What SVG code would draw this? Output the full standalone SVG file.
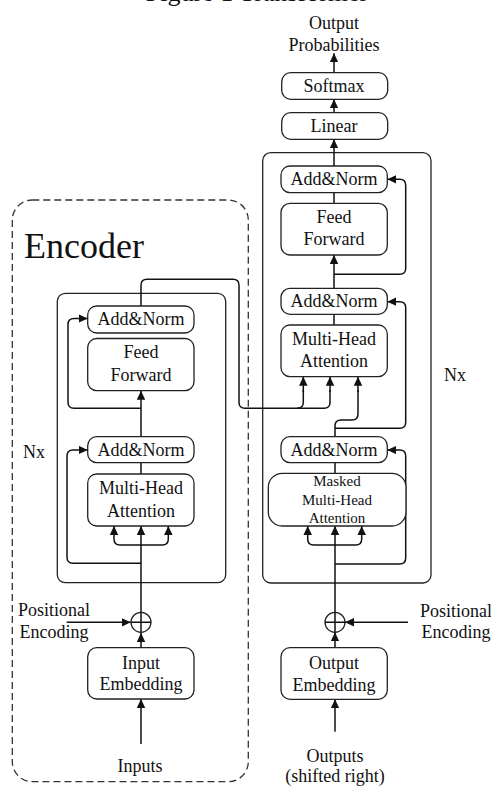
<svg xmlns="http://www.w3.org/2000/svg" width="491" height="786" viewBox="0 0 491 786">
  <style>
    text { font-family: "Liberation Serif", "Times New Roman", serif; font-size: 18px; fill: #111; text-anchor: middle; }
    .box { fill: #fff; stroke: #222; stroke-width: 1.3; }
    .frame { fill: none; stroke: #222; stroke-width: 1.3; }
    .dash { fill: none; stroke: #333; stroke-width: 1.3; stroke-dasharray: 7 4; }
    .wire { fill: none; stroke: #111; stroke-width: 1.5; }
    .arrow { fill: none; stroke: #111; stroke-width: 1.5; marker-end: url(#head); }
    .small { font-size: 15px; }
  </style>
  <defs>
    <marker id="head" markerUnits="userSpaceOnUse" markerWidth="10" markerHeight="10" refX="9" refY="4.25" orient="auto">
      <path d="M0,0 L9,4.25 L0,8.5 z" fill="#111"/>
    </marker>
  </defs>

  <rect width="491" height="786" fill="#fff"/>

  <!-- title, clipped by the top edge -->
  <text x="257" y="1" style="font-size:26px">Figure 1 Transformer</text>

  <!-- frames -->
  <g id="encoder-frame">
    <rect class="dash" x="12.3" y="200" width="236" height="581.7" rx="20"/>
    <text x="84" y="258" style="font-size:36px">Encoder</text>
  </g>
  <g id="encoder-stack">
    <rect class="frame" x="57.3" y="293.3" width="168.4" height="289.4" rx="8"/>
    <text x="34" y="458">Nx</text>
  </g>
  <g id="decoder-stack">
    <rect class="frame" x="262.7" y="152.7" width="168.3" height="430.3" rx="8"/>
    <text x="455" y="381">Nx</text>
  </g>

  <!-- connectors -->
  <g id="connectors">
    <!-- encoder -->
    <path class="arrow" d="M141,744 V699"/>
    <path class="arrow" d="M141,647.7 V633"/>
    <path class="arrow" d="M66.7,622.3 H130.7"/>
    <path class="arrow" d="M141,612.3 V526"/>
    <path class="arrow" d="M141,545 H120 Q114,545 114,539 V526"/>
    <path class="arrow" d="M141,545 H162.3 Q168.3,545 168.3,539 V526"/>
    <path class="arrow" d="M141,563.3 H73 Q67,563.3 67,557.3 V456 Q67,450 73,450 H87.7"/>
    <path class="wire" d="M141,462.7 V474" stroke="#555"/>
    <path class="arrow" d="M141,436.7 V390.7"/>
    <path class="arrow" d="M141,408.3 H74 Q68,408.3 68,402.3 V324.5 Q68,318.5 74,318.5 H87.7"/>
    <!-- encoder output into decoder attention -->
    <path class="wire" d="M141,306 V285.3 Q141,279.3 147,279.3 H233 Q239,279.3 239,285.3 V402.3 Q239,408.3 245,408.3 H324 Q330,408.3 330,402.3 V390"/>
    <path class="arrow" d="M330,392 V376.7"/>
    <path class="wire" d="M297,408.3 Q303.3,408.3 303.3,402.3 V390"/>
    <path class="arrow" d="M303.3,392 V376.7"/>

    <!-- decoder -->
    <path class="arrow" d="M335,731.7 V699.3"/>
    <path class="arrow" d="M335,647.7 V632.3"/>
    <path class="arrow" d="M408,622.3 H345"/>
    <path class="arrow" d="M335,612.3 V526"/>
    <path class="arrow" d="M335,545 H313.7 Q307.7,545 307.7,539 V526"/>
    <path class="arrow" d="M335,545 H355.7 Q361.7,545 361.7,539 V526"/>
    <path class="arrow" d="M335,564 H399.7 Q405.7,564 405.7,558 V456 Q405.7,450 399.7,450 H387.3"/>
    <path class="wire" d="M335,462.7 V473.3" stroke="#555"/>
    <path class="wire" d="M335,436.7 V426 Q335,420 341,420 H352 Q358,420 358,414 V390"/>
    <path class="arrow" d="M358,392 V376.7"/>
    <path class="arrow" d="M335,428.3 H399.7 Q405.7,428.3 405.7,422.3 V307.7 Q405.7,301.7 399.7,301.7 H387.3"/>
    <path class="wire" d="M334,314.3 V325"/>
    <path class="arrow" d="M334,288.3 V255"/>
    <path class="arrow" d="M334,274.3 H399.7 Q405.7,274.3 405.7,268.3 V185.3 Q405.7,179.3 399.7,179.3 H387.3"/>
    <path class="wire" d="M334,192.7 V203.3"/>
    <path class="arrow" d="M334,166 V139.3"/>
    <path class="arrow" d="M334,112.7 V99.3"/>
    <path class="arrow" d="M334,72.7 V53.3"/>
  </g>

  <!-- encoder nodes -->
  <g id="inputs"><text x="140" y="771.7">Inputs</text></g>
  <g id="input-embedding">
    <rect class="box" x="87.7" y="647.7" width="106.3" height="51.3" rx="9"/>
    <text x="141" y="669">Input</text>
    <text x="141" y="690">Embedding</text>
  </g>
  <g id="enc-pos-encoding">
    <text x="54" y="616">Positional</text>
    <text x="54" y="637.7">Encoding</text>
  </g>
  <g id="enc-add">
    <circle class="box" cx="141" cy="622.3" r="10"/>
    <path class="wire" d="M131,622.3 H151 M141,612.3 V632.3" stroke-width="1.2"/>
  </g>
  <g id="enc-mha">
    <rect class="box" x="87.7" y="474" width="106.3" height="52" rx="9"/>
    <text x="141" y="494.3">Multi-Head</text>
    <text x="141" y="516.7">Attention</text>
  </g>
  <g id="enc-addnorm-1">
    <rect class="box" x="87.7" y="436.7" width="106.3" height="26" rx="9"/>
    <text x="141" y="455.5">Add&amp;Norm</text>
  </g>
  <g id="enc-ff">
    <rect class="box" x="87.7" y="338.5" width="106.3" height="52.2" rx="9"/>
    <text x="141" y="358.3">Feed</text>
    <text x="141" y="380.7">Forward</text>
  </g>
  <g id="enc-addnorm-2">
    <rect class="box" x="87.7" y="306" width="106.3" height="27" rx="9"/>
    <text x="141" y="325">Add&amp;Norm</text>
  </g>

  <!-- decoder nodes -->
  <g id="outputs">
    <text x="335" y="761.7">Outputs</text>
    <text x="335" y="781.7">(shifted right)</text>
  </g>
  <g id="output-embedding">
    <rect class="box" x="281" y="647.7" width="106.3" height="51.6" rx="9"/>
    <text x="334" y="669.3">Output</text>
    <text x="334" y="691">Embedding</text>
  </g>
  <g id="dec-pos-encoding">
    <text x="456" y="617.3">Positional</text>
    <text x="456" y="638.3">Encoding</text>
  </g>
  <g id="dec-add">
    <circle class="box" cx="335" cy="622.3" r="10"/>
    <path class="wire" d="M325,622.3 H345 M335,612.3 V632.3" stroke-width="1.2"/>
  </g>
  <g id="dec-masked-mha">
    <rect class="box" x="268.3" y="473.3" width="137.7" height="52.7" rx="14"/>
    <text class="small" x="337" y="486">Masked</text>
    <text class="small" x="337" y="505">Multi-Head</text>
    <text class="small" x="337" y="522.7">Attention</text>
  </g>
  <g id="dec-addnorm-1">
    <rect class="box" x="281" y="436.7" width="106.3" height="26" rx="9"/>
    <text x="334" y="455.5">Add&amp;Norm</text>
  </g>
  <g id="dec-mha">
    <rect class="box" x="281" y="325" width="106.3" height="51.7" rx="9"/>
    <text x="334" y="345">Multi-Head</text>
    <text x="334" y="366.7">Attention</text>
  </g>
  <g id="dec-addnorm-2">
    <rect class="box" x="281" y="288.3" width="106.3" height="26" rx="9"/>
    <text x="334" y="307.3">Add&amp;Norm</text>
  </g>
  <g id="dec-ff">
    <rect class="box" x="281" y="203.3" width="106.3" height="51.7" rx="9"/>
    <text x="334" y="223.3">Feed</text>
    <text x="334" y="245">Forward</text>
  </g>
  <g id="dec-addnorm-3">
    <rect class="box" x="281" y="166" width="106.3" height="26.7" rx="9"/>
    <text x="334" y="185.3">Add&amp;Norm</text>
  </g>
  <g id="linear">
    <rect class="box" x="281.7" y="112.7" width="106" height="26.6" rx="9"/>
    <text x="334" y="132">Linear</text>
  </g>
  <g id="softmax">
    <rect class="box" x="281.7" y="72.7" width="106" height="26.6" rx="9"/>
    <text x="334" y="92">Softmax</text>
  </g>
  <g id="output-probabilities">
    <text x="334" y="29">Output</text>
    <text x="334" y="51">Probabilities</text>
  </g>
</svg>
